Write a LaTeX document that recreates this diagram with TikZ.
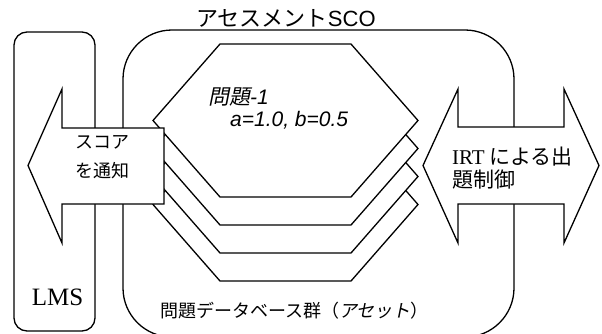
\documentclass[tikz,border=0pt]{standalone}
\usepackage{fontspec}
\setmainfont{Liberation Serif}
\setsansfont{Liberation Sans}
\newfontfamily\jp{Noto Sans CJK JP}
\newfontfamily\jpi[FakeSlant=0.2]{Noto Sans CJK JP}
\begin{document}
\begin{tikzpicture}[x=1pt,y=-1pt,
  outl/.style={draw=black,line width=1.3pt,fill=white,line join=miter},
  lbl/.style={inner sep=0pt,text=black}]
\clip (0,0) rectangle (602,333);
\fill[white] (0,0) rectangle (602,333);
% LMS box
\draw[outl,rounded corners=13pt] (14,32) rectangle (95,331);
% SCO box
\draw[outl,rounded corners=49pt] (123,30) rectangle (514,337);
% stacked hexagons (back to front)
\foreach \d in {84,56,28,0} {
  \draw[outl] (220,{44+\d}) -- (351,{44+\d}) -- (418,{120.5+\d}) -- (351,{197+\d})
     -- (220,{197+\d}) -- (153,{120.5+\d}) -- cycle;
}
% left arrow
\draw[outl] (164,128) -- (62,128) -- (62,89) -- (28,165.5) -- (62,243) -- (62,204) -- (164,204) -- cycle;
% right double arrow
\draw[outl] (458,127) -- (458,89) -- (423,165.5) -- (458,243) -- (458,204) -- (564,204)
   -- (564,243) -- (599,165.5) -- (564,89) -- (564,127) -- cycle;
% texts
\node[lbl,font=\jp\fontsize{22}{24}\selectfont] (title) at (286,18) {アセスメント{\sffamily SCO}};
\node[lbl,anchor=west,font=\jpi\fontsize{21}{24}\selectfont] (q1) at (208,97) {問題{\sffamily\itshape -1}};
\node[lbl,anchor=west,font=\sffamily\itshape\fontsize{21}{24}\selectfont] (ab) at (230,120) {a=1.0, b=0.5};
\node[lbl,font=\jp\fontsize{18}{22}\selectfont] (db) at (294.5,311) {問題データベース群（{\jpi アセット}）};
\node[lbl,align=center,font=\jp\fontsize{18}{29}\selectfont] (score) at (102,157.5) {スコア\\を通知};
\node[lbl,anchor=west,align=left,font=\jp\fontsize{21}{23}\selectfont] (irt) at (452,168.5) {{\rmfamily IRT} による出\\題制御};
\node[lbl,font=\rmfamily\fontsize{25}{28}\selectfont] (lms) at (57.5,297) {LMS};
\end{tikzpicture}
\end{document}
